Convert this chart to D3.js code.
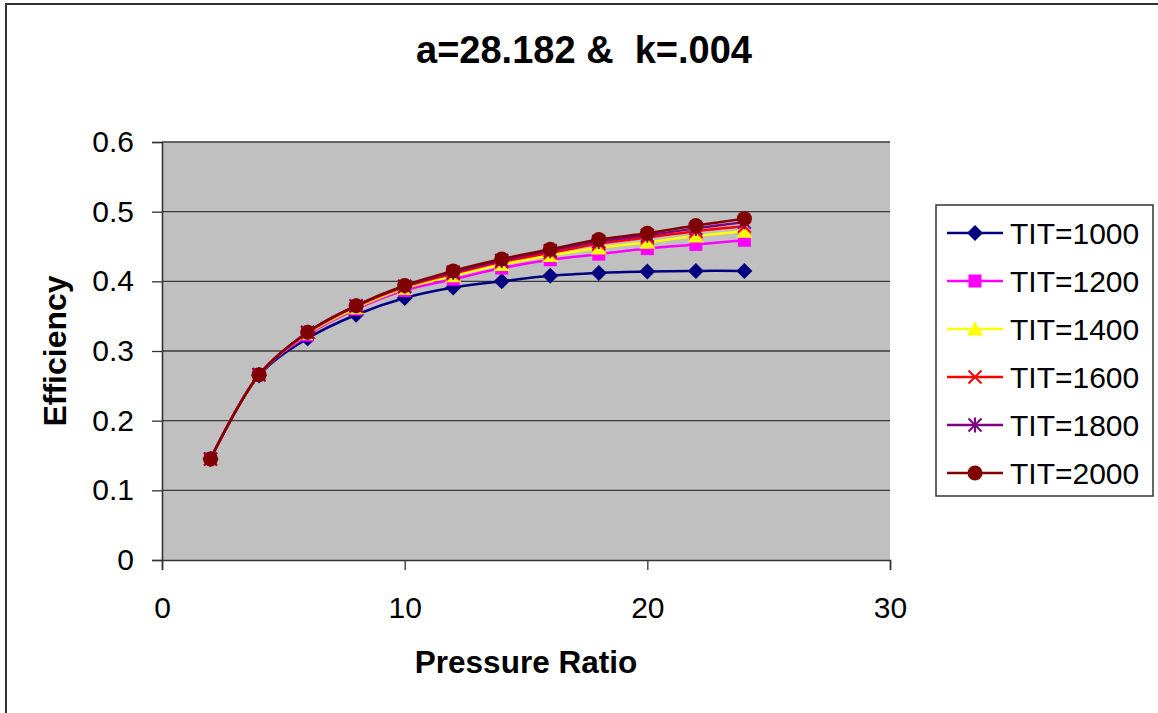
<!DOCTYPE html>
<html>
<head>
<meta charset="utf-8">
<script src="https://cdn.jsdelivr.net/npm/d3@7"></script>
<style>
  html, body { margin: 0; padding: 0; background: #fff; }
  svg { display: block; font-family: Arial, "Liberation Sans", sans-serif; }
</style>
</head>
<body>
<svg id="chart" width="1158" height="713"></svg>
<script>
// ---- data ----
const pressureRatio = [2, 4, 6, 8, 10, 12, 14, 16, 18, 20, 22, 24];
const seriesNames = ["TIT=1000", "TIT=1200", "TIT=1400", "TIT=1600", "TIT=1800", "TIT=2000"];
const tit1000 = [0.145, 0.265, 0.318, 0.352, 0.376, 0.391, 0.400, 0.408, 0.412, 0.414, 0.415, 0.415];
const tit1200 = [0.145, 0.266, 0.323, 0.360, 0.387, 0.403, 0.419, 0.431, 0.439, 0.447, 0.453, 0.459];
const tit1400 = [0.145, 0.266, 0.325, 0.362, 0.390, 0.408, 0.424, 0.437, 0.448, 0.456, 0.465, 0.472];
const tit1600 = [0.145, 0.266, 0.326, 0.364, 0.392, 0.411, 0.428, 0.441, 0.454, 0.463, 0.472, 0.479];
const tit1800 = [0.145, 0.266, 0.327, 0.365, 0.393, 0.413, 0.430, 0.444, 0.457, 0.466, 0.476, 0.485];
const tit2000 = [0.145, 0.266, 0.327, 0.365, 0.394, 0.415, 0.432, 0.446, 0.460, 0.469, 0.480, 0.490];
const xTicks = [0, 10, 20, 30];
const yTicks = [0, 0.1, 0.2, 0.3, 0.4, 0.5, 0.6];

const seriesValues = [tit1000, tit1200, tit1400, tit1600, tit1800, tit2000];
const colors = ["#000080", "#FF00FF", "#FFFF00", "#FF0000", "#800080", "#800000"];
const markers = ["diamond", "square", "triangle", "x", "star", "circle"];

const svg = d3.select("#chart");

// chart border
svg.append("rect").attr("x", 6).attr("y", 4).attr("width", 1160).attr("height", 720)
  .attr("fill", "#fff").attr("stroke", "#333").attr("stroke-width", 2);

const plot = { left: 162, top: 142, right: 890, bottom: 560 };
const x = d3.scaleLinear().domain([0, 30]).range([plot.left, plot.right]);
const y = d3.scaleLinear().domain([0, 0.6]).range([plot.bottom, plot.top]);

// plot background
svg.append("rect").attr("x", plot.left).attr("y", plot.top)
  .attr("width", plot.right - plot.left).attr("height", plot.bottom - plot.top)
  .attr("fill", "#C0C0C0");

// gridlines
svg.append("g").selectAll("line").data(yTicks.filter(d => d > 0)).join("line")
  .attr("x1", plot.left).attr("x2", plot.right)
  .attr("y1", d => y(d)).attr("y2", d => y(d))
  .attr("stroke", "#3a3a3a").attr("stroke-width", 1.3);

// axes
const yAxis = svg.append("g").attr("transform", `translate(${plot.left},0)`)
  .call(d3.axisLeft(y).tickValues(yTicks).tickFormat(d => d === 0 ? "0" : d3.format(".1f")(d)).tickSize(10).tickPadding(18));
const xAxis = svg.append("g").attr("transform", `translate(0,${plot.bottom})`)
  .call(d3.axisBottom(x).tickValues(xTicks).tickFormat(d3.format("d")).tickSize(10).tickPadding(27));
[xAxis, yAxis].forEach(g => {
  g.select(".domain").attr("stroke", "#333").attr("stroke-width", 1.6);
  g.selectAll(".tick line").attr("stroke", "#333").attr("stroke-width", 1.3);
  g.selectAll(".tick text").attr("fill", "#000").style("font-size", "30px")
    .style("font-family", "Arial, 'Liberation Sans', sans-serif");
});

// symbols
function drawMarker(g, type, color, cx, cy) {
  if (type === "diamond") {
    const r = 8;
    g.append("path").attr("d", `M${cx},${cy - r}L${cx + r},${cy}L${cx},${cy + r}L${cx - r},${cy}Z`)
      .attr("fill", color);
  } else if (type === "square") {
    g.append("rect").attr("x", cx - 6.5).attr("y", cy - 6.5).attr("width", 13).attr("height", 13)
      .attr("fill", color);
  } else if (type === "triangle") {
    g.append("path").attr("d", `M${cx},${cy - 7.5}L${cx + 8},${cy + 6.5}L${cx - 8},${cy + 6.5}Z`)
      .attr("fill", color);
  } else if (type === "x") {
    const r = 6.5;
    g.append("path").attr("d", `M${cx - r},${cy - r}L${cx + r},${cy + r}M${cx - r},${cy + r}L${cx + r},${cy - r}`)
      .attr("stroke", color).attr("stroke-width", 2).attr("fill", "none");
  } else if (type === "star") {
    const r = 6.5;
    g.append("path").attr("d", `M${cx - r},${cy - r}L${cx + r},${cy + r}M${cx - r},${cy + r}L${cx + r},${cy - r}M${cx},${cy - r - 1}L${cx},${cy + r + 1}`)
      .attr("stroke", color).attr("stroke-width", 2).attr("fill", "none");
  } else if (type === "circle") {
    g.append("circle").attr("cx", cx).attr("cy", cy).attr("r", 7.5).attr("fill", color);
  }
}

// lines
const line = d3.line().x(d => x(d[0])).y(d => y(d[1])).curve(d3.curveCatmullRom.alpha(0.5));
seriesValues.forEach((vals, i) => {
  const pts = pressureRatio.map((p, j) => [p, vals[j]]);
  const g = svg.append("g");
  g.append("path").datum(pts).attr("d", line).attr("fill", "none")
    .attr("stroke", colors[i]).attr("stroke-width", 2.5);
  pts.forEach(p => drawMarker(g, markers[i], colors[i], x(p[0]), y(p[1])));
});

// title
svg.append("text").attr("x", 584).attr("y", 63).attr("text-anchor", "middle")
  .style("font-size", "38px").style("font-weight", "bold")
  .attr("xml:space", "preserve").style("white-space", "pre").text("a=28.182 &  k=.004");

// axis titles
svg.append("text").attr("x", (plot.left + plot.right) / 2).attr("y", 673).attr("text-anchor", "middle")
  .style("font-size", "31.5px").style("font-weight", "bold").text("Pressure Ratio");
svg.append("text").attr("transform", `translate(66,${(plot.top + plot.bottom) / 2}) rotate(-90)`)
  .attr("text-anchor", "middle")
  .style("font-size", "32px").style("font-weight", "bold").text("Efficiency");

// legend
const lg = svg.append("g");
lg.append("rect").attr("x", 936).attr("y", 205).attr("width", 217).attr("height", 291)
  .attr("fill", "#fff").attr("stroke", "#333").attr("stroke-width", 1.5);
const rowY = d3.scalePoint().domain(seriesNames).range([233, 473]);
seriesNames.forEach((name, i) => {
  const yy = rowY(name);
  lg.append("line").attr("x1", 947).attr("x2", 1003).attr("y1", yy).attr("y2", yy)
    .attr("stroke", colors[i]).attr("stroke-width", 2.5);
  drawMarker(lg, markers[i], colors[i], 975, yy);
  lg.append("text").attr("x", 1010).attr("y", yy).attr("dy", "0.36em")
    .style("font-size", "30px").text(name);
});
</script>
</body>
</html>
